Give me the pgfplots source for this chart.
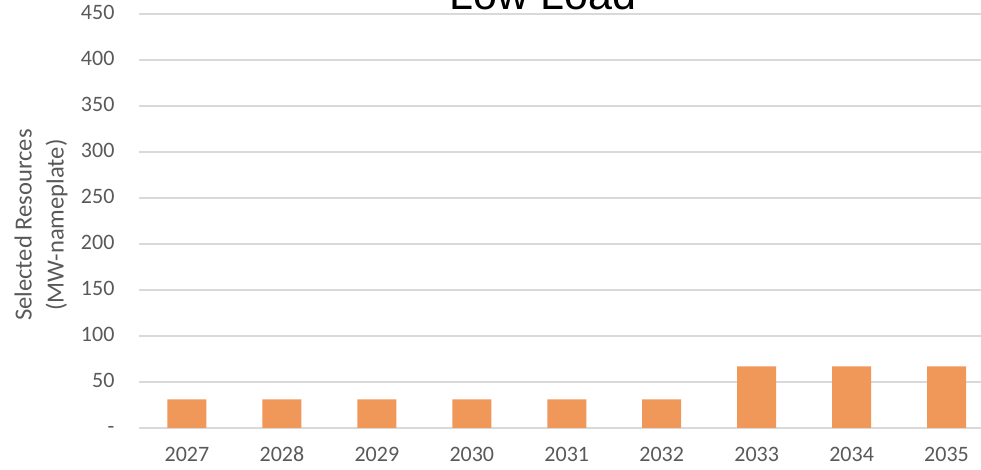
\documentclass[border=0pt]{standalone}
\usepackage{fontspec}
\setmainfont{Carlito}
\newfontfamily\arialfont{Liberation Sans}
\usepackage{pgfplots}
\pgfplotsset{compat=1.18}
\definecolor{barorange}{RGB}{240,151,90}
\definecolor{gridgray}{RGB}{217,217,217}
\definecolor{txtgray}{RGB}{89,89,89}
\begin{document}
\begin{tikzpicture}
\clip (0,0) rectangle (490.5pt,235pt);
\begin{axis}[
  at={(69.75pt,21pt)}, anchor=south west,
  scale only axis, width=420.75pt, height=207pt,
  xmin=-0.5, xmax=8.363, ymin=0, ymax=450,
  xtick={0,1,2,3,4,5,6,7,8},
  xticklabels={2027,2028,2029,2030,2031,2032,2033,2034,2035},
  ytick={0,50,100,150,200,250,300,350,400,450},
  yticklabels={-,50,100,150,200,250,300,350,400,450},
  axis line style={draw=none}, tick style={draw=none},
  ymajorgrids, major grid style={color=gridgray, line width=1pt},
  ticklabel style={font=\fontsize{11pt}{13pt}\selectfont, text=txtgray},
  yticklabel style={anchor=east, xshift=-9pt},
  xticklabel style={anchor=center, yshift=-14.25pt, at={(0,0)}},
  typeset ticklabels with strut,
  ylabel={Selected Resources\\(MW-nameplate)},
  ylabel style={at={(axis description cs:-0.117,0.49)}, anchor=center, align=center,
    font=\fontsize{12.3pt}{16pt}\selectfont, text=txtgray},
  clip=false,
]
\addplot[ybar, bar width=19.5pt, fill=barorange, draw=none] coordinates {
(0,31) (1,31) (2,31) (3,31) (4,31) (5,31) (6,67) (7,67) (8,67)};
\end{axis}
\node[anchor=base, font=\arialfont\fontsize{21.5pt}{24pt}\selectfont] at (271.5pt,230pt) {Low Load};
\end{tikzpicture}
\end{document}
